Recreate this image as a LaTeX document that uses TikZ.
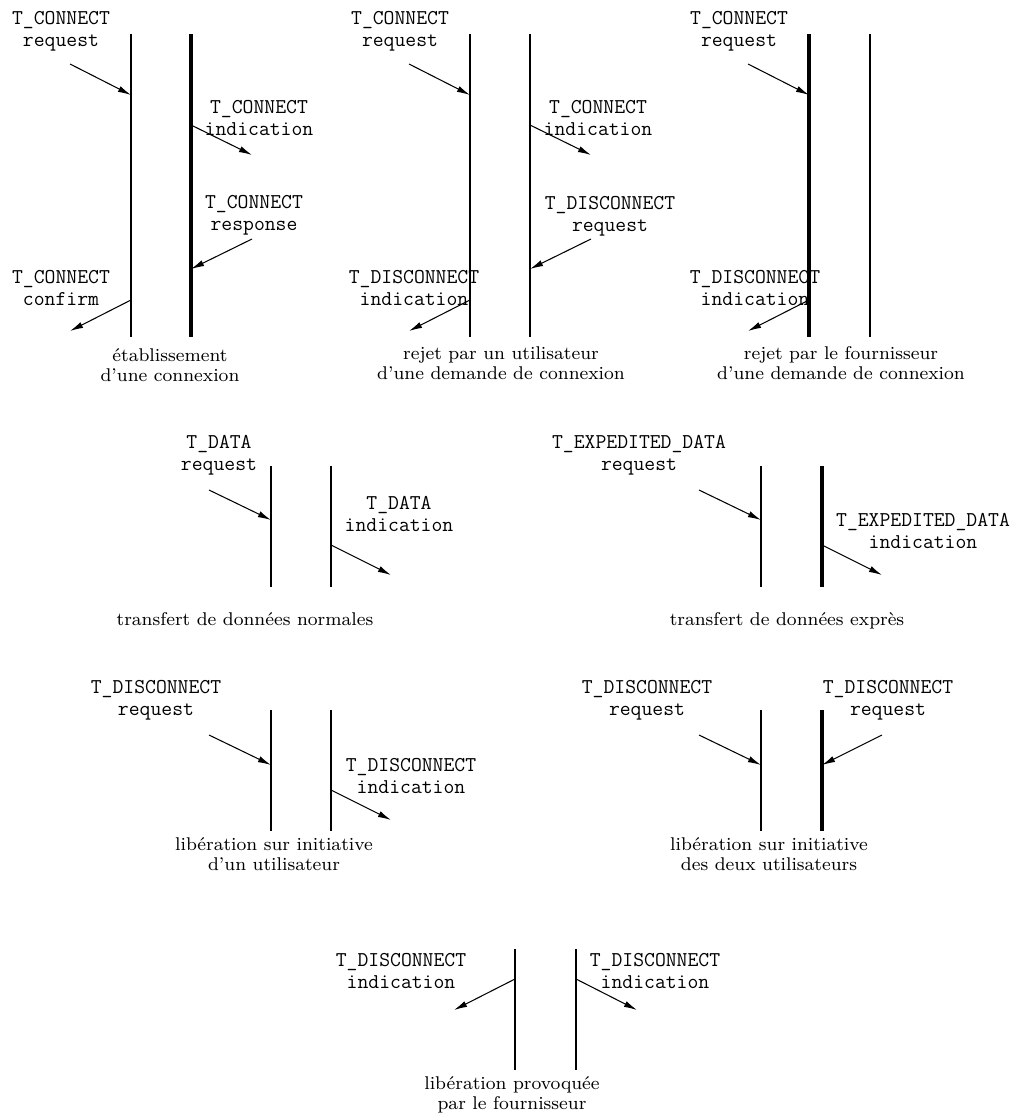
\documentclass[tikz,border=0pt]{standalone}
\usepackage{fontspec}
\newfontfamily\capfont[Ligatures=TeX]{lmroman8-regular.otf}
\usetikzlibrary{arrows.meta}

\begin{document}
\begin{tikzpicture}[
    x=0.02cm, y=-0.02cm,
    prim/.style={anchor=north, inner sep=0pt, align=center, font=\fontsize{12}{12.6}\selectfont\ttfamily},
    descr/.style={anchor=north, inner sep=0pt, align=center, font=\fontsize{10.5}{11.6}\selectfont\capfont},
    user/.style={line width=1.4pt},
    provider/.style={line width=2pt},
    line/.style={draw, line width=0.6pt, -{Latex[length=7.5pt,width=3.6pt]}}
]
\useasboundingbox (0,0) rectangle (1015,1116);

% Etablissement d'une connexion
\draw[user] (131,34) -- (131,337);
\draw[provider] (191,34) -- (191,337);
\node[prim] (cx_req) at (61,11) {T\_CONNECT\\request};
\node[prim] (cx_ind) at (259,100) {T\_CONNECT\\indication};
\node[prim] (cx_resp) at (254,195) {T\_CONNECT\\response};
\node[prim] (cx_conf) at (61,270) {T\_CONNECT\\confirm};
\node[descr] (cx_txt) at (170,348) {établissement\\d'une connexion};
\coordinate (cx_req_from) at (70,64);   \coordinate (cx_req_to) at (131,95);
\coordinate (cx_ind_from) at (191,125); \coordinate (cx_ind_to) at (252,155);
\coordinate (cx_resp_from) at (252,239); \coordinate (cx_resp_to) at (191,269);
\coordinate (cx_conf_from) at (131,300); \coordinate (cx_conf_to) at (70,331);
\path [line] (cx_req_from) -- (cx_req_to);
\path [line] (cx_ind_from) -- (cx_ind_to);
\path [line] (cx_resp_from) -- (cx_resp_to);
\path [line] (cx_conf_from) -- (cx_conf_to);

% Rejet par un utilisateur
\draw[user] (470,34) -- (470,337);
\draw[user] (530,34) -- (530,337);
\node[prim] (ru_req) at (400,11) {T\_CONNECT\\request};
\node[prim] (ru_ind) at (598,100) {T\_CONNECT\\indication};
\node[prim] (ru_dreq) at (610,196) {T\_DISCONNECT\\request};
\node[prim] (ru_dind) at (414,270) {T\_DISCONNECT\\indication};
\node[descr] (ru_txt) at (501,346) {rejet par un utilisateur\\d'une demande de connexion};
\coordinate (ru_req_from) at (409,64);   \coordinate (ru_req_to) at (470,95);
\coordinate (ru_ind_from) at (530,125);  \coordinate (ru_ind_to) at (591,155);
\coordinate (ru_dreq_from) at (591,239); \coordinate (ru_dreq_to) at (530,269);
\coordinate (ru_dind_from) at (470,300); \coordinate (ru_dind_to) at (409,331);
\path [line] (ru_req_from) -- (ru_req_to);
\path [line] (ru_ind_from) -- (ru_ind_to);
\path [line] (ru_dreq_from) -- (ru_dreq_to);
\path [line] (ru_dind_from) -- (ru_dind_to);

% Rejet par le fournisseur
\draw[provider] (809,34) -- (809,337);
\draw[user] (870,34) -- (870,337);
\node[prim] (rf_req) at (739,11) {T\_CONNECT\\request};
\node[prim] (rf_dind) at (755,270) {T\_DISCONNECT\\indication};
\node[descr] (rf_txt) at (841,346) {rejet par le fournisseur\\d'une demande de connexion};
\coordinate (rf_req_from) at (748,64);   \coordinate (rf_req_to) at (809,95);
\coordinate (rf_dind_from) at (809,300); \coordinate (rf_dind_to) at (748,331);
\path [line] (rf_req_from) -- (rf_req_to);
\path [line] (rf_dind_from) -- (rf_dind_to);

% Transfert de donnees normales
\draw[user] (271,466) -- (271,587);
\draw[user] (331,466) -- (331,587);
\node[prim] (dt_req) at (219,435) {T\_DATA\\request};
\node[prim] (dt_ind) at (399,496) {T\_DATA\\indication};
\node[descr] (dt_txt) at (245,612) {transfert de données normales};
\coordinate (dt_req_from) at (209,490); \coordinate (dt_req_to) at (271,520);
\coordinate (dt_ind_from) at (331,545); \coordinate (dt_ind_to) at (391,575);
\path [line] (dt_req_from) -- (dt_req_to);
\path [line] (dt_ind_from) -- (dt_ind_to);

% Transfert de donnees expres
\draw[user] (761,466) -- (761,587);
\draw[provider] (822,466) -- (822,587);
\node[prim] (ex_req) at (639,435) {T\_EXPEDITED\_DATA\\request};
\node[prim] (ex_ind) at (923,513) {T\_EXPEDITED\_DATA\\indication};
\node[descr] (ex_txt) at (787,612) {transfert de données exprès};
\coordinate (ex_req_from) at (699,490); \coordinate (ex_req_to) at (761,520);
\coordinate (ex_ind_from) at (822,545); \coordinate (ex_ind_to) at (882,575);
\path [line] (ex_req_from) -- (ex_req_to);
\path [line] (ex_ind_from) -- (ex_ind_to);

% Liberation par un utilisateur
\draw[user] (271,710) -- (271,831);
\draw[user] (331,710) -- (331,831);
\node[prim] (lu_req) at (156,680) {T\_DISCONNECT\\request};
\node[prim] (lu_ind) at (411,758) {T\_DISCONNECT\\indication};
\node[descr] (lu_txt) at (274,837) {libération sur initiative\\d'un utilisateur};
\coordinate (lu_req_from) at (209,735); \coordinate (lu_req_to) at (271,765);
\coordinate (lu_ind_from) at (331,790); \coordinate (lu_ind_to) at (391,820);
\path [line] (lu_req_from) -- (lu_req_to);
\path [line] (lu_ind_from) -- (lu_ind_to);

% Liberation par les deux utilisateurs
\draw[user] (761,710) -- (761,831);
\draw[provider] (822,710) -- (822,831);
\node[prim] (ld_req_a) at (647,680) {T\_DISCONNECT\\request};
\node[prim] (ld_req_b) at (888,680) {T\_DISCONNECT\\request};
\node[descr] (ld_txt) at (769,837) {libération sur initiative\\des deux utilisateurs};
\coordinate (ld_a_from) at (699,735); \coordinate (ld_a_to) at (761,765);
\coordinate (ld_b_from) at (882,735); \coordinate (ld_b_to) at (822,765);
\path [line] (ld_a_from) -- (ld_a_to);
\path [line] (ld_b_from) -- (ld_b_to);

% Liberation par le fournisseur
\draw[user] (515,949) -- (515,1070);
\draw[user] (576,949) -- (576,1070);
\node[prim] (lf_ind_a) at (401,953) {T\_DISCONNECT\\indication};
\node[prim] (lf_ind_b) at (655,953) {T\_DISCONNECT\\indication};
\node[descr] (lf_txt) at (512,1076) {libération provoquée\\par le fournisseur};
\coordinate (lf_a_from) at (515,979); \coordinate (lf_a_to) at (454,1010);
\coordinate (lf_b_from) at (576,979); \coordinate (lf_b_to) at (637,1010);
\path [line] (lf_a_from) -- (lf_a_to);
\path [line] (lf_b_from) -- (lf_b_to);

\end{tikzpicture}
\end{document}
